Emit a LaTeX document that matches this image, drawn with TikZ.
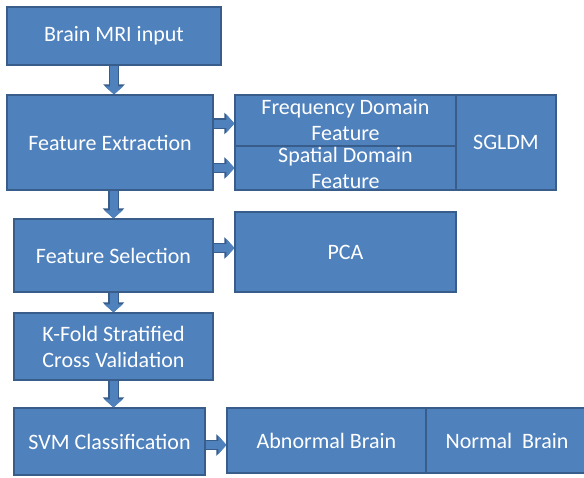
\documentclass[tikz,border=0pt]{standalone}
\usepackage{fontspec}
\setmainfont{Carlito}
\usetikzlibrary{arrows.meta,calc}
\definecolor{boxfill}{HTML}{4F81BD}
\definecolor{boxedge}{HTML}{385D8A}
\tikzset{
  box/.style={draw=boxedge, fill=boxfill, line width=1.2pt, rectangle, inner sep=0pt,
    text=white, font=\fontsize{22}{26}\selectfont, align=center},
  barrow/.style={line width=8pt, draw=boxfill, -{Triangle[width=18pt,length=8pt]},
    preaction={draw=boxedge, line width=10.4pt, -{Triangle[width=21pt,length=10pt]}}}
}
\begin{document}
\begin{tikzpicture}[x=1pt,y=-1pt]
\useasboundingbox (0,0) rectangle (584,477);
\fill[white] (0,0) rectangle (584,477);
\node[box, minimum width=214pt, minimum height=58pt] (mri) at (114,36) {Brain MRI input};
\node[box, minimum width=206pt, minimum height=95pt] (fe) at (110,142.5) {Feature Extraction};
\node[box, minimum width=221pt, minimum height=51pt] (freq) at (345.5,120.5) {Frequency Domain\\Feature};
\node[box, minimum width=221pt, minimum height=44pt] (spat) at (345.5,168) {Spatial Domain\\Feature};
\node[box, minimum width=100pt, minimum height=95pt] (sgldm) at (506,142.5) {SGLDM};
\node[box, minimum width=199pt, minimum height=73pt] (fs) at (113.5,255.5) {Feature Selection};
\node[box, minimum width=221pt, minimum height=80pt] (pca) at (345.5,252) {PCA};
\node[box, minimum width=199pt, minimum height=67pt] (kf) at (113.5,346.5) {K-Fold Stratified\\Cross Validation};
\node[box, minimum width=191pt, minimum height=67pt] (svm) at (109.5,441.5) {SVM Classification};
\node[box, minimum width=199pt, minimum height=65pt] (abn) at (326.5,440.5) {Abnormal Brain};
\node[box, minimum width=162pt, minimum height=65pt] (nor) at (507,440.5) {Normal\ \ Brain};
% vertical arrows
\draw[barrow] (mri.south) -- (mri.south |- fe.north);
\draw[barrow] (fe.south -| fs.north) -- (fs.north);
\draw[barrow] (fs.south) -- (kf.north);
\draw[barrow] (kf.south) -- (kf.south |- svm.north);
% horizontal arrows
\draw[barrow] ([yshift=-3pt]fe.east |- freq.west) -- ([yshift=-3pt]freq.west);
\draw[barrow] (fe.east |- spat.west) -- (spat.west);
\draw[barrow] ([yshift=4pt]fs.east |- pca.west) -- ([yshift=4pt]pca.west);
\draw[barrow] ([yshift=-3.5pt]svm.east) -- ([yshift=-3.5pt]svm.east -| abn.west);
\end{tikzpicture}
\end{document}
